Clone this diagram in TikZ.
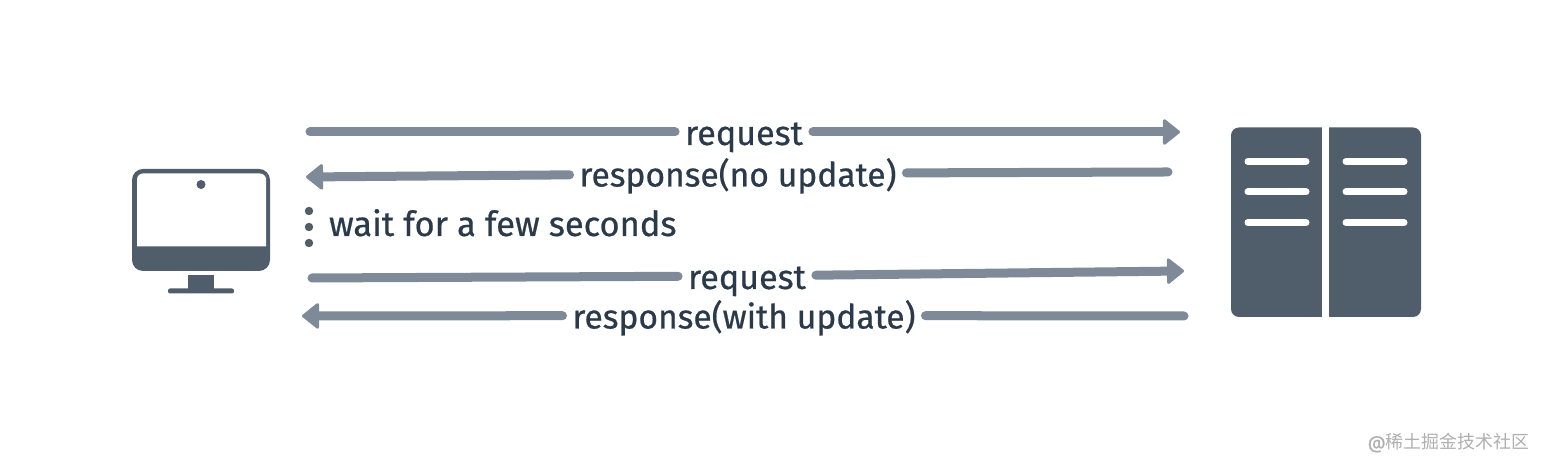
\documentclass[tikz,border=0pt]{standalone}
\usepackage{fontspec}
\setmainfont{Fira Sans}[RawFeature={embolden=0.6}]
\newfontfamily\cjkfont{Noto Sans CJK SC}
\usepackage{xcolor}
\usetikzlibrary{arrows.meta}
\definecolor{iconSlate}{RGB}{80, 93, 107}
\definecolor{lineGray}{RGB}{126, 138, 152}
\definecolor{textDark}{RGB}{43, 58, 74}
\definecolor{markGray}{RGB}{175, 175, 175}
\tikzset{
    flowline/.style={line width=0.09cm,lineGray,line cap=round},
    flowarrow/.style={flowline,-{Triangle[length=0.18cm,width=0.28cm,line width=0.03cm,round]}},
    flowlabel/.style={font=\fontsize{9.7pt}{12pt}\selectfont,text=textDark,inner xsep=0.1cm,inner ysep=0pt,outer sep=0pt,text height=0.34cm,text depth=0.08cm},
    widelabel/.style={flowlabel,font=\fontsize{9.55pt}{12pt}\selectfont},
    barline/.style={line width=0.07cm,white,line cap=round}
}
\begin{document}
\begin{tikzpicture}[x=0.01cm,y=-0.01cm]
    \useasboundingbox (0,0) rectangle (1544,468);
    % Monitor
    \fill[iconSlate,rounded corners=0.11cm] (132,169) rectangle (270,271);
    \fill[white,rounded corners=0.06cm] (137,246.5) [sharp corners] -- (137,180) [rounded corners=0.06cm] -- (137,173.5) -- (266,173.5) -- (266,180) [sharp corners] -- (266,246.5) -- cycle;
    \fill[iconSlate] (201,184.5) circle (4.5);
    \fill[iconSlate] (188,275.5) rectangle (214,290);
    \fill[iconSlate,rounded corners=0.02cm] (168,288.5) rectangle (234,293.5);
    % Server
    \fill[iconSlate,rounded corners=0.08cm] (1231,127.5) rectangle (1421,317);
    \fill[white] (1322,127) rectangle (1329,318);
    \foreach \y in {161.5,192,222.5} {
        \draw[barline] (1248,\y) -- (1306,\y);
        \draw[barline] (1346,\y) -- (1404,\y);
    }
    % Labels
    \node[flowlabel] (reqone) at (744,132) {request};
    \node[widelabel] (resone) at (738,173.5) {response(no update)};
    \node[flowlabel,font=\fontsize{9.8pt}{12pt}\selectfont,anchor=west] (wait) at (319,223) {wait for a few seconds};
    \node[flowlabel] (reqtwo) at (747,276) {request};
    \node[widelabel] (restwo) at (744,315.5) {response(with update)};
    % Free ends
    \coordinate (aone) at (310,132);
    \coordinate (bone) at (1180,132);
    \coordinate (atwo) at (306,177);
    \coordinate (btwo) at (1168,172);
    \coordinate (athree) at (312,278);
    \coordinate (bthree) at (1184,271);
    \coordinate (afour) at (302,316);
    \coordinate (bfour) at (1184,316);
    % Connectors
    \draw[flowline] (aone) -- (reqone);
    \draw[flowarrow] (reqone) -- (bone);
    \draw[flowarrow] (resone) -- (atwo);
    \draw[flowline] (resone) -- (btwo);
    \draw[flowline] (athree) -- (reqtwo);
    \draw[flowarrow] (reqtwo) -- (bthree);
    \draw[flowarrow] (restwo) -- (afour);
    \draw[flowline] (restwo) -- (bfour);
    % Waiting dots
    \foreach \y in {211,227,243}
        \fill[iconSlate] (309,\y) circle (4.2);
    \node[font=\fontsize{5.1pt}{6pt}\selectfont,text=markGray,anchor=east,inner sep=0pt] (mark) at (1530,443) {@{\cjkfont 稀土掘金技术社区}};
\end{tikzpicture}
\end{document}
